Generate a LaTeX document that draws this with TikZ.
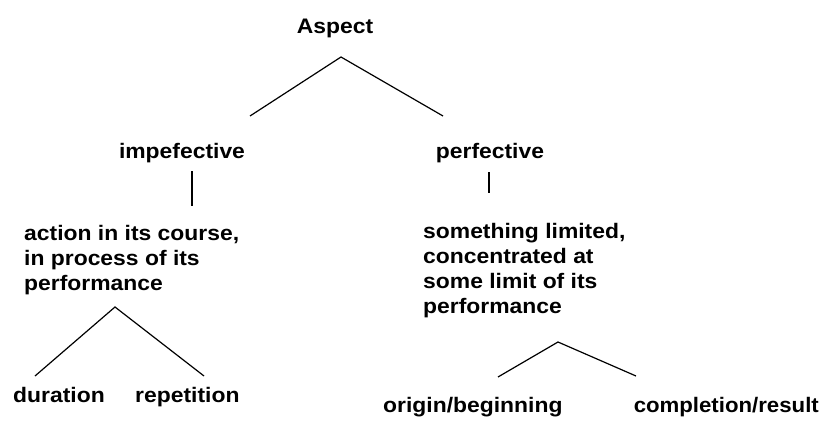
\documentclass[tikz,border=0pt]{standalone}
\usepackage{fontspec}
\setmainfont{Liberation Sans}[FakeStretch=1.09]
\usepackage{tikz}

\tikzset{
  lbl/.style={font=\fontsize{21}{25}\selectfont\bfseries,inner sep=0pt},
  branch/.style={line width=1.2pt}
}

\begin{document}
\begin{tikzpicture}[x=1pt,y=-1pt]
        \useasboundingbox(0,0) rectangle (820,423);
        \node[lbl,anchor=base](aspect) at (335,33) {Aspect};
        \node[lbl,anchor=base](imperf) at (182,158) {impefective};
        \node[lbl,anchor=base](perf) at (490,158) {perfective};
        \node[lbl,anchor=north west,align=left](course) at (24,225) {action in its course,\\in process of its\\performance};
        \node[lbl,anchor=north west,align=left](limit) at (423,223) {something limited,\\concentrated at\\some limit of its\\performance};
        \node[lbl,anchor=base west](dur) at (13,402) {duration};
        \node[lbl,anchor=base west](rep) at (135,402) {repetition};
        \node[lbl,anchor=base west](orig) at (383,412) {origin/beginning};
        \node[lbl,anchor=base east,xscale=0.97](compl) at (819,412) {completion/result};
        % fork points and free ends
        \coordinate(aspectfork) at (341,57);
        \coordinate(imperfend) at (250,116);
        \coordinate(perfend) at (443,116);
        \coordinate(imperfdrop) at (192,171);
        \coordinate(coursetop) at (192,206);
        \coordinate(perfdrop) at (489,172);
        \coordinate(limittop) at (489,193);
        \coordinate(coursefork) at (115,307);
        \coordinate(durend) at (35,376);
        \coordinate(repend) at (204,376);
        \coordinate(limitfork) at (558,342);
        \coordinate(origend) at (498,377);
        \coordinate(complend) at (636,376);
        \draw[branch](imperfend)--(aspectfork)--(perfend);
        \draw[branch](imperfdrop)--(coursetop);
        \draw[branch](perfdrop)--(limittop);
        \draw[branch](durend)--(coursefork)--(repend);
        \draw[branch](origend)--(limitfork)--(complend);
\end{tikzpicture}
\end{document}
